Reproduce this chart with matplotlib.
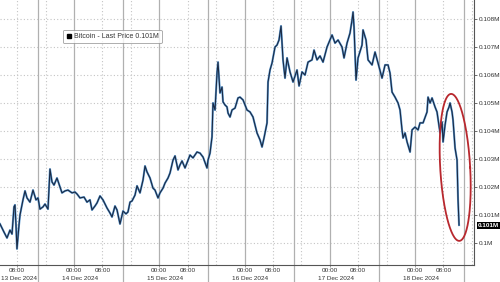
import matplotlib
matplotlib.use("Agg")
import matplotlib.pyplot as plt
import matplotlib.transforms as mtransforms
from matplotlib.lines import Line2D
import numpy as np

plt.rcParams['font.family'] = ['Liberation Sans', 'DejaVu Sans']

# hours since 13 Dec 2024 00:00
hours = [3.17, 4.29, 5.14, 5.98, 6.55, 7.11, 7.39, 7.67, 7.95, 8.52, 8.80, 9.64, 10.21, 10.77,
         11.61, 12.46, 13.30, 13.87, 14.43, 15.27, 15.84, 16.68, 17.24, 17.81, 18.37, 19.21,
         20.06, 20.62, 21.47, 22.31, 23.44, 24.28, 24.85, 25.69, 26.82, 27.66, 28.50, 29.07,
         29.91, 30.48, 31.32, 32.16, 33.29, 34.14, 34.70, 35.54, 36.11, 36.95, 37.80, 38.64,
         39.20, 39.77, 40.33, 41.17, 41.74, 42.58, 43.43, 43.99, 44.55, 45.40, 46.24, 46.80,
         47.65, 48.21, 49.06, 49.62, 50.46, 51.03, 51.87, 52.44, 53.28, 53.84, 54.41, 55.25,
         55.81, 56.66, 57.50, 58.63, 59.47, 60.32, 61.44, 61.73, 62.29, 62.85, 63.13, 63.70,
         64.26, 64.54, 65.10, 65.67, 65.95, 66.51, 67.07, 67.36, 67.92, 68.48, 69.33, 70.17,
         70.73, 71.58, 72.71, 73.55, 74.39, 74.96, 75.52, 76.37, 76.93, 77.49, 77.77, 78.34,
         78.62, 79.18, 79.75, 80.59, 81.15, 81.71, 82.28, 82.84, 83.40, 83.97, 84.81, 85.66,
         86.78, 87.35, 88.19, 89.03, 89.88, 91.00, 91.57, 92.41, 93.26, 94.10, 95.23, 96.64,
         97.48, 98.33, 99.45, 100.01, 100.86, 101.70, 102.26, 102.55, 102.83, 103.39, 103.96,
         105.08, 105.36, 106.21, 106.77, 107.90, 108.74, 109.58, 110.71, 111.56, 112.40,
         112.96, 113.53, 114.37, 115.22, 115.78, 116.34, 116.63, 117.19, 117.76, 118.60,
         119.16, 120.00, 120.85, 121.41, 122.26, 123.38, 123.66, 124.23, 124.79, 125.63,
         126.19, 127.04, 127.61, 127.89, 128.45, 129.01, 129.58, 129.86, 130.42, 130.70,
         131.27, 131.83, 132.11, 132.39]

price = [100680, 100390, 100180, 100460, 100320, 101290, 101360, 100640, 99790, 100640, 101000,
         101540, 101860, 101610, 101460, 101890, 101540, 101610, 101210, 101290, 101390, 101210,
         102640, 102180, 102070, 102320, 102000, 101790, 101860, 101890, 101790, 101820, 101750,
         101610, 101640, 101460, 101540, 101180, 101320, 101430, 101680, 101540, 101250, 101070,
         100930, 101320, 101180, 100680, 101140, 101040, 101110, 101460, 101500, 101710, 102040,
         101790, 102250, 102750, 102540, 102320, 101960, 101890, 101610, 101790, 101960, 102140,
         102320, 102500, 102960, 103110, 102610, 102790, 102930, 102680, 102860, 103140, 103040,
         103250, 103210, 103070, 102680, 102960, 103210, 103790, 105000, 104750, 106070, 106460,
         105360, 105570, 105040, 104930, 104860, 104640, 104500, 104750, 104820, 105180, 105210,
         105110, 104750, 104680, 104500, 104210, 103930, 103680, 103430, 103750, 103930, 104290,
         105750, 106180, 106430, 107000, 107070, 107250, 107750, 106540, 105890, 106610, 106110,
         105750, 106180, 105610, 106110, 106000, 106460, 106540, 106890, 106540, 106680, 106460,
         107000, 107430, 107140, 107250, 107000, 106610, 107140, 107500, 107960, 108250, 107710,
         105820, 106610, 107070, 107610, 107250, 106540, 106360, 106820, 106430, 105890, 106360,
         106360, 106070, 105390, 105210, 105000, 104750, 104040, 103750, 103930, 103610, 103250,
         104040, 104140, 104040, 104290, 104290, 104680, 105210, 105000, 105180, 104860, 104680,
         103930, 104320, 103610, 104210, 104680, 104860, 105000, 104680, 104390, 103390, 102960,
         101540, 100640]

ytick_vals = [100000, 101000, 102000, 103000, 104000, 105000, 106000, 107000, 108000]
day_labels = ['13 Dec 2024', '14 Dec 2024', '15 Dec 2024', '16 Dec 2024', '17 Dec 2024', '18 Dec 2024']
day_starts = [0, 24, 48, 72, 96, 120]
time_labels = ['00:00', '08:00']

W, H = 500, 282
fig = plt.figure(figsize=(W / 100, H / 100), dpi=100)
ax_l, ax_b, ax_w, ax_h = 0, 17, 474, 265
ax = fig.add_axes([ax_l / W, ax_b / H, ax_w / W, ax_h / H])
xmin, xmax = 3.17, 136.6
ax.set_xlim(xmin, xmax)
ax.set_ylim(99214, 108679)

grid_c = '#c4c4c4'
solid_c = '#b0b0b0'
for v in ytick_vals:
    ax.axhline(v, color=grid_c, lw=0.8, ls=(0, (1, 2)), zorder=1)

below = -ax_b / ax_h
for d in day_starts:
    for hh in (8, 16):
        if xmin < d + hh < xmax:
            ax.axvline(d + hh, color=grid_c, lw=0.8, ls=(0, (1, 2)), zorder=1)
    if xmin < d < xmax:
        ax.axvline(d, color=solid_c, lw=0.9, zorder=1)
    sep = d + 13.85
    if xmin < sep < xmax:
        ax.axvline(sep, ymin=below, ymax=1, color=solid_c, lw=0.9, zorder=1, clip_on=False)

# price line (two-tone like the original)
ax.plot(hours, price, color='#5e9bd3', lw=1.5, zorder=3, solid_joinstyle='round')
ax.plot(hours, price, color='#1a2a44', lw=0.8, zorder=4, solid_joinstyle='round')

# red ellipse highlighting the drop
t = np.linspace(0, 2 * np.pi, 200)
cx, cy, rx, ry, shear = 131.3, 102700, 4.22, 2625, -1.13
ax.plot(cx + rx * np.cos(t) + shear * np.sin(t), cy + ry * np.sin(t),
        color='#b8282e', lw=1.3, zorder=5, clip_on=False)

# axes styling
for s in ('top', 'left'):
    ax.spines[s].set_visible(False)
for s in ('right', 'bottom'):
    ax.spines[s].set_color('#555555')
    ax.spines[s].set_linewidth(0.8)

fs = 4.6
ax.yaxis.tick_right()
ax.set_yticks(ytick_vals)
ax.set_yticklabels([f"{round(v / 1e6, 3):g}M" for v in ytick_vals])
ax.tick_params(axis='y', length=2.5, width=0.6, color='#555555', pad=1.0,
               labelsize=fs, labelcolor='#333333')

xt, xl = [], []
for d in day_starts:
    for i, lab in enumerate(time_labels):
        pos = d + 8 * i
        if xmin < pos < xmax:
            xt.append(pos)
            xl.append(lab)
ax.set_xticks(xt)
ax.set_xticklabels(xl)
ax.tick_params(axis='x', length=1.5, width=0.6, color='#888888', pad=0.4,
               labelsize=fs, labelcolor='#333333')

trans = ax.get_xaxis_transform()
dy = -13 / ax_h
for d, lab in zip(day_starts, day_labels):
    if d < xmin:
        ax.text(0.003, dy, lab, transform=ax.transAxes, ha='left', va='center',
                fontsize=fs, color='#333333')
    else:
        ax.text(d + 1.7, dy, lab, transform=trans, ha='center', va='center',
                fontsize=fs, color='#333333')

# last price tag
last = price[-1]
tag_tr = mtransforms.blended_transform_factory(ax.transAxes, ax.transData)
ax.text(478 / ax_w, last, f"{last / 1e6:.3f}M", transform=tag_tr, ha='left', va='center',
        fontsize=fs, color='white', fontweight='bold',
        bbox=dict(boxstyle='square,pad=0.15', fc='black', ec='none'), clip_on=False)

# legend
handle = Line2D([], [], marker='s', color='black', ls='none', markersize=3.5)
leg = ax.legend([handle], [f"Bitcoin - Last Price {last / 1e6:.3f}M"], loc='upper left',
                bbox_to_anchor=(63 / ax_w, 1 - 30 / ax_h), fontsize=5, frameon=True,
                fancybox=True, edgecolor='#888888', borderpad=0.45, handlelength=0.7,
                handletextpad=0.4, borderaxespad=0)
leg.get_frame().set_linewidth(0.6)
leg.set_zorder(6)
for txt in leg.get_texts():
    txt.set_color('#333333')

fig.savefig('out.png', dpi=100)
